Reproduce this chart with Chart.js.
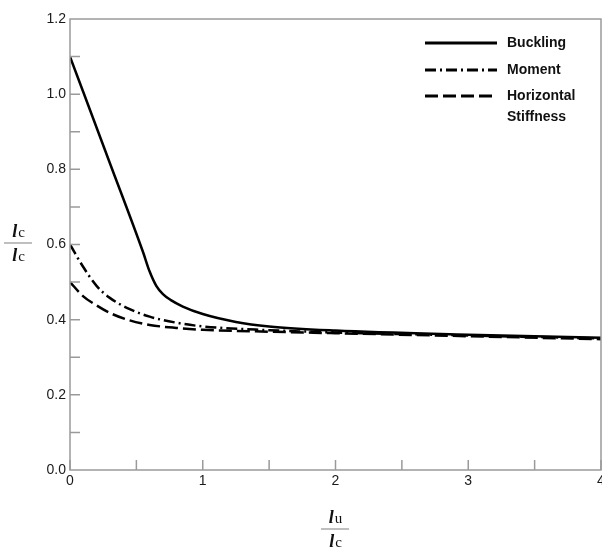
<!DOCTYPE html>
<html>
<head>
<meta charset="utf-8">
<script src="https://cdn.jsdelivr.net/npm/chart.js@4"></script>
<style>
  html, body { margin: 0; padding: 0; background: #fff; }
  canvas { display: block; }
</style>
</head>
<body>
<canvas id="chart1" width="602" height="551"></canvas>
<script>
// values
const bucklingX = [0, 0.3, 0.55, 0.6, 0.65, 0.7, 0.76, 0.85, 1.0, 1.25, 1.5, 2, 3, 4];
const bucklingY = [1.1, 0.817, 0.58, 0.528, 0.49, 0.468, 0.452, 0.435, 0.415, 0.394, 0.382, 0.371, 0.36, 0.352];
const momentX = [0, 0.1, 0.2, 0.3, 0.45, 0.6, 0.8, 1.0, 1.5, 2, 3, 4];
const momentY = [0.6, 0.54, 0.49, 0.458, 0.428, 0.408, 0.392, 0.382, 0.372, 0.366, 0.358, 0.35];
const stiffX = [0, 0.1, 0.2, 0.3, 0.45, 0.6, 0.8, 1.0, 1.5, 2, 3, 4];
const stiffY = [0.5, 0.462, 0.438, 0.418, 0.398, 0.386, 0.378, 0.373, 0.368, 0.364, 0.356, 0.348];
const seriesNames = ['Buckling', 'Moment', 'Horizontal\nStiffness'];
const xTicks = [0, 1, 2, 3, 4];
const yTicks = [0.0, 0.2, 0.4, 0.6, 0.8, 1.0, 1.2];

const toPts = (xs, ys) => xs.map((x, i) => ({ x: x, y: ys[i] }));
const dashes = [[], [11, 4, 2, 4], [13, 5]];

// frame, inward ticks, legend and fraction titles
const decor = {
  id: 'decor',
  afterDraw(chart) {
    const ctx = chart.ctx;
    const a = chart.chartArea;
    const xs = chart.scales.x, ys = chart.scales.y;
    ctx.save();
    ctx.strokeStyle = '#9a9a9a';
    ctx.lineWidth = 1.5;
    ctx.strokeRect(a.left, a.top, a.right - a.left, a.bottom - a.top);
    ctx.beginPath();
    for (let v = 0; v <= 4.001; v += 0.5) {
      const px = xs.getPixelForValue(v);
      ctx.moveTo(px, a.bottom); ctx.lineTo(px, a.bottom - 10);
    }
    for (let v = 0.1; v <= 1.15; v += 0.1) {
      const py = ys.getPixelForValue(v);
      ctx.moveTo(a.left, py); ctx.lineTo(a.left + 10, py);
    }
    ctx.stroke();

    // legend
    ctx.fillStyle = '#111';
    ctx.font = 'bold 14px "Liberation Sans", Arial, sans-serif';
    ctx.textBaseline = 'middle';
    const rows = [43, 70, 96];
    chart.data.datasets.forEach((ds, i) => {
      ctx.strokeStyle = '#000';
      ctx.lineWidth = 3;
      ctx.setLineDash(dashes[i]);
      ctx.beginPath();
      ctx.moveTo(425, rows[i]); ctx.lineTo(497, rows[i]);
      ctx.stroke();
      ctx.setLineDash([]);
      seriesNames[i].split('\n').forEach((s, k) => ctx.fillText(s, 507, rows[i] + k * 21));
    });

    // fraction titles
    const frac = (cx, top, sub1, sub2) => {
      ctx.textBaseline = 'alphabetic';
      const part = (y, sub) => {
        ctx.font = 'italic bold 18px "Liberation Serif", serif';
        const w1 = ctx.measureText('l').width;
        ctx.font = '15px "Liberation Serif", serif';
        const w2 = ctx.measureText(sub).width;
        const x0 = cx - (w1 + w2) / 2;
        ctx.font = 'italic bold 18px "Liberation Serif", serif';
        ctx.fillText('l', x0, y);
        ctx.font = '15px "Liberation Serif", serif';
        ctx.fillText(sub, x0 + w1 + 1, y);
      };
      part(top, sub1);
      ctx.strokeStyle = '#aaa';
      ctx.lineWidth = 1.5;
      ctx.beginPath();
      ctx.moveTo(cx - 14, top + 6); ctx.lineTo(cx + 14, top + 6);
      ctx.stroke();
      part(top + 24, sub2);
    };
    frac(18, 237, 'c', 'c');
    frac(335, 523, 'u', 'c');
    ctx.restore();
  }
};

const ctx = document.getElementById('chart1').getContext('2d');
new Chart(ctx, {
  type: 'line',
  data: {
    datasets: [
      { label: 'Buckling', data: toPts(bucklingX, bucklingY) },
      { label: 'Moment', data: toPts(momentX, momentY) },
      { label: 'Horizontal Stiffness', data: toPts(stiffX, stiffY) }
    ].map((d, i) => Object.assign(d, {
      borderColor: '#000',
      borderWidth: 2.5,
      borderDash: dashes[i],
      pointRadius: 0,
      fill: false,
      cubicInterpolationMode: 'monotone'
    }))
  },
  options: {
    responsive: false,
    animation: false,
    layout: { padding: { top: 19, right: 1, left: 0, bottom: 0 } },
    plugins: { legend: { display: false }, tooltip: { enabled: false } },
    scales: {
      x: {
        type: 'linear', min: 0, max: 4,
        grid: { display: false, drawTicks: false }, border: { display: false },
        afterBuildTicks: s => { s.ticks = xTicks.map(v => ({ value: v })); },
        afterFit: s => { s.height = 81; s.paddingLeft = 0; s.paddingRight = 0; },
        ticks: { color: '#1a1a1a', padding: 3, font: { family: '"Liberation Sans", Arial', size: 14 } }
      },
      y: {
        min: 0, max: 1.2,
        grid: { display: false, drawTicks: false }, border: { display: false },
        afterBuildTicks: s => { s.ticks = yTicks.map(v => ({ value: v })); },
        afterFit: s => { s.width = 70; },
        ticks: { color: '#1a1a1a', padding: 4, callback: v => v.toFixed(1),
                 font: { family: '"Liberation Sans", Arial', size: 14 } }
      }
    }
  },
  plugins: [decor]
});
</script>
</body>
</html>
